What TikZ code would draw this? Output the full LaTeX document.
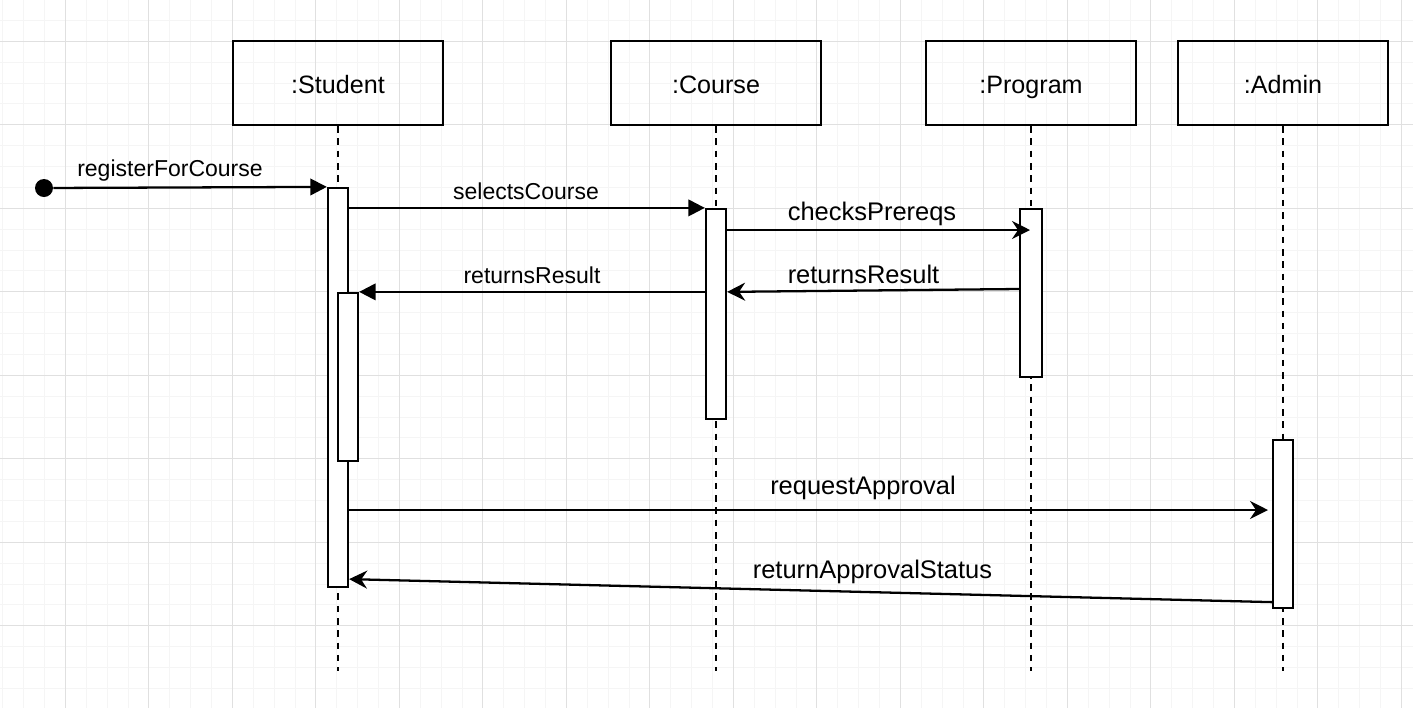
\documentclass[tikz,border=0pt]{standalone}
\usepackage{fontspec}
\setmainfont{Liberation Sans}
\usetikzlibrary{arrows.meta}

\begin{document}
\begin{tikzpicture}[x=0.02cm,y=-0.02cm]
\tikzstyle{minorgrid}=[line width=0.5pt, draw=black!4]
\tikzstyle{majorgrid}=[line width=0.6pt, draw=black!12]
\tikzstyle{head}=[rectangle, draw=black, line width=1.3pt, minimum width=4.2cm, minimum height=1.68cm, inner sep=0pt, text height=12.4pt, text depth=0pt, font=\fontsize{14.3}{17}\selectfont]
\tikzstyle{bar}=[rectangle, draw=black, line width=1.3pt, fill=white, minimum width=0.4cm, inner sep=0pt]
\tikzstyle{life}=[line width=1.3pt, dash pattern=on 3.7pt off 3.3pt]
\tikzstyle{call}=[-{Triangle[length=0.33cm,width=0.33cm]}, line width=1.3pt]
\tikzstyle{reply}=[-{Stealth[length=0.36cm,width=0.36cm,inset=0.12cm]}, line width=1.3pt]
\tikzstyle{lbl}=[anchor=base, inner sep=0pt, font=\fontsize{13.1}{15}\selectfont]
\tikzstyle{biglbl}=[lbl, font=\fontsize{14.5}{17}\selectfont]
  \useasboundingbox (0,0) rectangle (1413,708);
  % background grid
  \foreach \i in {0,...,67} \draw[minorgrid] ({2.7+20.875*\i},0) -- ({2.7+20.875*\i},708);
  \foreach \j in {0,...,33} \draw[minorgrid] (0,{20.4+20.875*\j}) -- (1413,{20.4+20.875*\j});
  \foreach \i in {0,...,16} \draw[majorgrid] ({65.3+83.5*\i},0) -- ({65.3+83.5*\i},708);
  \foreach \j in {0,...,7} \draw[majorgrid] (0,{41.3+83.5*\j}) -- (1413,{41.3+83.5*\j});

  % lifelines
  \node[head] (student) at (338,83) {:Student};
  \node[head] (course) at (716,83) {:Course};
  \node[head] (program) at (1031,83) {:Program};
  \node[head] (admin) at (1283,83) {:Admin};
  \foreach \n in {student,course,program,admin}
    \draw[life] (\n.south) -- ++(0,545);

  % activations
  \node[bar, minimum height=7.98cm] (sbar) at (338,387.5) {};
  \node[bar, minimum height=3.36cm] (nbar) at (348,377) {};
  \node[bar, minimum height=4.2cm] (cbar) at (716,314) {};
  \node[bar, minimum height=3.36cm, minimum width=0.44cm] (pbar) at (1031,293) {};
  \node[bar, minimum height=3.36cm] (abar) at (1283,524) {};

  \node[circle, fill=black, minimum size=0.36cm, inner sep=0pt] (start) at (44,188) {};
  \coordinate (chk) at (1030,230);
  \coordinate (req) at (1268,510);

  % messages
  \draw[call] (start) -- (sbar.north west);
  \draw[call] (sbar.east |- cbar.north) -- (cbar.north west);
  \draw[reply] (cbar.east |- chk) -- (chk);
  \draw[reply] ([yshift=0.08cm]pbar.west) -- (cbar.east |- nbar.north);
  \draw[call] (cbar.west |- nbar.north) -- (nbar.north east);
  \draw[reply] (sbar.east |- req) -- (req);
  \draw[reply] ([yshift=0.14cm]abar.south west) -- ([yshift=0.18cm]sbar.south east);

  \node[lbl] (lreg) at (170,176) {registerForCourse};
  \node[lbl] (lsel) at (526,199) {selectsCourse};
  \node[biglbl] (lchk) at (872,220) {checksPrereqs};
  \node[biglbl] (lret) at (863.5,283) {returnsResult};
  \node[lbl] (lret') at (532,283) {returnsResult};
  \node[biglbl] (lreq) at (863,494) {requestApproval};
  \node[biglbl] (lstat) at (872.5,578) {returnApprovalStatus};
\end{tikzpicture}
\end{document}
